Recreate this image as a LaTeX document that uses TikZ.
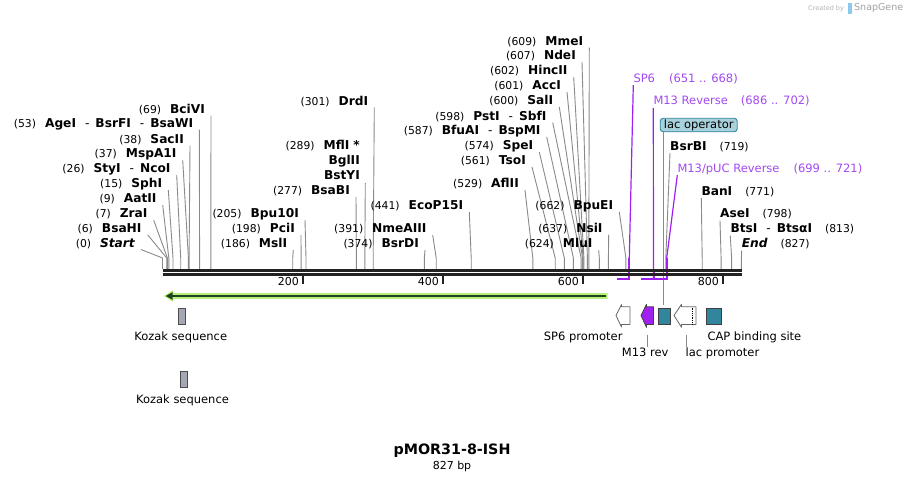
\documentclass[tikz,border=0pt]{standalone}
\usepackage{fontspec}
\setmainfont{DejaVu Sans}
\usetikzlibrary{calc,arrows.meta}
\definecolor{leadc}{HTML}{8A8A8A}
\definecolor{primc}{HTML}{A020F0}
\definecolor{primt}{HTML}{A349F0}
\definecolor{tealc}{HTML}{31859C}
\definecolor{lacfill}{HTML}{A9D1DC}
\definecolor{kozf}{HTML}{A4A8B2}
\definecolor{grn}{HTML}{B6EF7C}
\definecolor{bbc}{HTML}{222222}
\definecolor{wmc}{HTML}{B4B4B4}
\definecolor{logoc}{HTML}{8CC8F0}
\newcommand\nf{\fontsize{10.8}{13}\selectfont\mdseries}
\newcommand\bn{\fontsize{12.2}{14}\selectfont\bfseries}
\newcommand\dsep{\hspace{9pt}{\mdseries -}\hspace{6pt}}
\tikzset{
  lbl/.style={inner sep=0pt, font=\fontsize{11.5}{14}\selectfont},
  leader/.style={draw=leadc, line width=0.9pt},
  primline/.style={draw=primc, line width=1.2pt},
  primbar/.style={draw=primc, line width=2pt},
  ptext/.style={lbl, text=primt},
  ft/.style={lbl},
  featline/.style={draw=gray!80!black, line width=0.8pt, line join=round},
}
\newcommand\enzL[6]{%
  \node[lbl,anchor=mid east] (#1) at (#3,#2) {{\nf(#5)}\hspace{9pt}{\bn #6}};
  \coordinate (#1-b) at ({162.5+0.7*#4},258);
  \coordinate (#1-s) at ({162.5+0.7*#4},269);
  \draw[leader] ([shift={(6,5)}]#1.mid east) -- (#1-b) -- (#1-s);}
\newcommand\enzR[6]{%
  \node[lbl,anchor=mid west] (#1) at (#3,#2) {{\bn #6}\hspace{13pt}{\nf(#5)}};
  \coordinate (#1-b) at ({162.5+0.7*#4},258);
  \coordinate (#1-s) at ({162.5+0.7*#4},269);
  \draw[leader] ([shift={(0,5.5)}]#1.mid west) -- (#1-b) -- (#1-s);}
\begin{document}
\begin{tikzpicture}[x=1pt,y=-1pt]
\useasboundingbox (0,0) rectangle (905,482);
\fill[white] (0,0) rectangle (905,482);

% watermark
\node[inner sep=0pt, anchor=mid west, text=wmc, font=\fontsize{6.5}{8}\selectfont] (wm1) at (808,8) {Created by};
\fill[logoc] (847.5,3) rectangle (851.5,13.5);
\node[inner sep=0pt, anchor=mid west, text=wmc!90!black, font=\fontsize{9.5}{11}\selectfont] (wm2) at (854,8) {SnapGene};

% lac operator leader (behind backbone)
\node[lbl, draw=tealc, fill=lacfill, rounded corners=3pt, line width=0.9pt, minimum width=77pt, minimum height=13.5pt, anchor=center] (lacop) at (698.7,125) {lac operator};
\coordinate (lacop-f) at (663.3,305);
\draw[leader] (lacop.south -| lacop-f) -- (lacop-f);

% left group
\enzL{bciVI}{110.7}{205}{69}{69}{BciVI}
\enzL{ageI}{124.5}{193.3}{53}{53}{AgeI\dsep BsrFI\dsep BsaWI}
\enzL{sacII}{140.5}{184}{38}{38}{SacII}
\enzL{mspAI}{155.2}{176.7}{37}{37}{MspA1I}
\enzL{styI}{170.2}{170.7}{26}{26}{StyI\dsep NcoI}
\enzL{sphI}{185.2}{162.3}{15}{15}{SphI}
\enzL{aatII}{199.8}{156.7}{9}{9}{AatII}
\enzL{zraI}{215.2}{147.7}{7}{7}{ZraI}
\enzL{bsaHI}{229.8}{141.7}{6}{6}{BsaHI}
\enzL{startE}{244.5}{135}{0}{0}{\itshape Start}

% middle group
\enzL{bpuTI}{215.2}{299}{205}{205}{Bpu10I}
\enzL{pciI}{230.2}{295}{198}{198}{PciI}
\enzL{mslI}{245.2}{287.3}{186}{186}{MslI}
\enzL{drdI}{102.5}{368.3}{301}{301}{DrdI}
\node[lbl,anchor=mid east] (mflI) at (360,147) {{\nf(289)}\hspace{9pt}{\bn MflI\hspace{4pt}*}};
\node[lbl,anchor=mid east] (bglII) at (360,162) {\bn BglII};
\node[lbl,anchor=mid east] (bstYI) at (360,177) {\bn BstYI};
\coordinate (bstYI-b) at ({162.5+0.7*289},258);
\coordinate (bstYI-s) at ({162.5+0.7*289},269);
\draw[leader] ([shift={(5.3,6)}]bstYI.mid east) -- (bstYI-b) -- (bstYI-s);
\enzL{bsaBI}{192}{350}{277}{277}{BsaBI}
\enzL{ecoPI}{207}{463.3}{441}{441}{EcoP15I}
\enzL{nmeAIII}{230.2}{426.7}{391}{391}{NmeAIII}
\enzL{bsrDI}{245.2}{419}{374}{374}{BsrDI}

% right group
\enzL{mmeI}{42.5}{583.3}{609}{609}{MmeI}
\enzL{ndeI}{57}{576}{607}{607}{NdeI}
\enzL{hincII}{72}{567.7}{602}{602}{HincII}
\enzL{accI}{87}{561}{601}{601}{AccI}
\enzL{salI}{102}{553.3}{600}{600}{SalI}
\enzL{pstI}{117.5}{546.7}{598}{598}{PstI\dsep SbfI}
\enzL{bfuAI}{132}{540.7}{587}{587}{BfuAI\dsep BspMI}
\enzL{speI}{147}{533.3}{574}{574}{SpeI}
\enzL{tsoI}{162}{526}{561}{561}{TsoI}
\enzL{aflII}{185.2}{519}{529}{529}{AflII}
\enzL{bpuEI}{207}{613.3}{662}{662}{BpuEI}
\enzL{nsiI}{229.7}{602.7}{637}{637}{NsiI}
\enzL{mluI}{245.2}{592.7}{624}{624}{MluI}

% right side labels
\enzR{bsrBI}{147.5}{670}{719}{719}{BsrBI}
\enzR{banI}{192.5}{701.3}{771}{771}{BanI}
\enzR{aseI}{215.2}{720}{798}{798}{AseI}
\enzR{btsI}{230.2}{730.3}{813}{813}{BtsI\dsep BtsαI}
\enzR{endE}{245.2}{741.7}{827}{827}{\itshape End}

% primers
\node[ptext,anchor=mid west] (sp6) at (633.3,80.2) {SP6\hspace{14pt}(651 .. 668)};
\node[ptext,anchor=mid west] (m13r) at (653.3,101.8) {M13 Reverse\hspace{13pt}(686 .. 702)};
\node[ptext,anchor=mid west] (m13p) at (677.3,170.2) {M13/pUC Reverse\hspace{14pt}(699 .. 721)};
\coordinate (sp6-b) at (629.3,258);
\coordinate (sp6-e) at (629.3,279);
\coordinate (sp6-a) at (617,279);
\coordinate (m13r-e) at (653.5,279);
\coordinate (m13r-a) at (641,279);
\coordinate (m13p-b) at (666.7,258);
\coordinate (m13p-e) at (666.7,279);
\draw[primline] ([shift={(0,5)}]sp6.mid west) -- (sp6-b);
\draw[primbar] (sp6-b) -- (sp6-e) -- (sp6-a);
\draw[primline] ([shift={(0,6)}]m13r.mid west) -- (m13r-e);
\draw[primline] ([shift={(0,5)}]m13p.mid west) -- (m13p-b);
\draw[primbar] (m13p-b) -- (m13p-e) -- (m13r-a);
\draw[primbar] (m13r-e) -- ++(0,-10);

% backbone
\fill[bbc] (162.5,269) rectangle (742,271.7);
\fill[bbc] (162.5,273.3) rectangle (742,276);
\foreach \t/\xx in {200/302.5,400/442.5,600/582.5,800/722.5}{
  \fill[bbc] (\xx-1,276) rectangle (\xx+1,283.5);
  \node[lbl,anchor=mid east,font=\fontsize{11}{13}\selectfont] (tick\t) at (\xx-3.5,282.8) {\t};
}

% green feature arrow
\fill[grn] (607.5,293.2) -- (173,293.2) -- (173,290.2) -- (163.8,296) -- (173,301.8) -- (173,298.8) -- (607.5,298.8) -- cycle;
\draw[bbc!85!green, line width=1.8pt] (606,296) -- (170,296);
\fill[bbc!85!green] (165.8,296) -- (172.5,292.2) -- (172.5,299.8) -- cycle;

% Kozak sequences
\draw[draw=black!70, fill=kozf, line width=0.8pt] (178.3,308.3) rectangle (185.7,324.3);
\node[ft,anchor=mid] (koz1) at (180.7,338) {Kozak sequence};
\draw[draw=black!70, fill=kozf, line width=0.8pt] (180.3,371) rectangle (187.7,387.3);
\node[ft,anchor=mid] (koz2) at (182.5,400.7) {Kozak sequence};

% SP6 promoter
\draw[featline, fill=white] (616,315.5) -- (621.5,304.5) -- (621.5,306.8) -- (630,306.8) -- (630,324.5) -- (621.5,324.5) -- (621.5,327) -- cycle;
\node[ft,anchor=mid east] (sp6p) at (622.7,338) {SP6 promoter};
% M13 rev
\draw[draw=black!75, fill=primc, line width=0.8pt, line join=round] (641,315.5) -- (646.5,304.3) -- (646.5,306.8) -- (653.5,306.8) -- (653.5,324.5) -- (646.5,324.5) -- (646.5,327.3) -- cycle;
\node[ft,anchor=mid west] (m13lab) at (621.7,354) {M13 rev};
\coordinate (m13l-t) at (647.7,334.5);
\coordinate (m13l-b) at (647.7,346.5);
\draw[leader] (m13l-t) -- (m13l-b);
% lac operator feature
\draw[draw=black!75, fill=tealc, line width=0.8pt] (658.3,308.3) rectangle (670.3,324.3);
% lac promoter
\draw[featline, fill=white] (674,315.5) -- (681.5,304.3) -- (681.5,306.8) -- (696,306.8) -- (696,324.5) -- (681.5,324.5) -- (681.5,327.3) -- cycle;
\draw[draw=black, line width=0.8pt, densely dotted] (692.5,307.5) -- (692.5,324);
\node[ft,anchor=mid west] (lacp) at (685.5,354) {lac promoter};
\coordinate (lacl-t) at (686,334.5);
\coordinate (lacl-b) at (686,346.5);
\draw[leader] (lacl-t) -- (lacl-b);
% CAP binding site
\draw[draw=black!75, fill=tealc, line width=0.8pt] (706,308.3) rectangle (721.7,324.3);
\node[ft,anchor=mid west] (cap) at (707.3,338) {CAP binding site};

% title
\node[inner sep=0pt, font=\fontsize{14.3}{17}\selectfont\bfseries] (title) at (452,451) {pMOR31-8-ISH};
\node[inner sep=0pt, font=\fontsize{11}{13}\selectfont] (bp) at (452,466) {827 bp};
\end{tikzpicture}
\end{document}
